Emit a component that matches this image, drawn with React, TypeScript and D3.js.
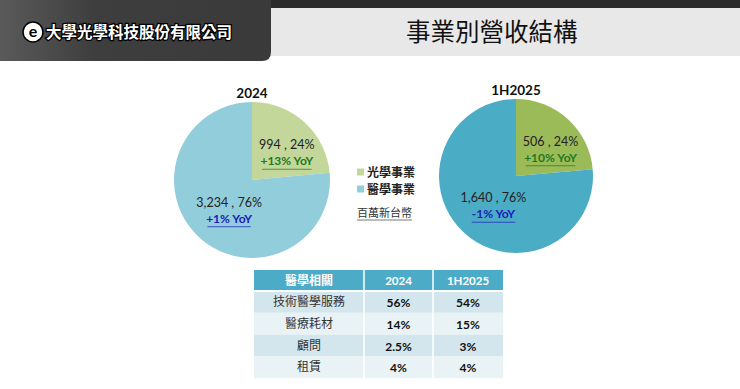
import React from "react"
import * as d3 from "d3"

const width = 740
const height = 389

// segments
const segments = ["光學事業", "醫學事業"]
const values2024 = [994, 3234]
const values2025 = [506, 1640]
const shares2024 = ["24%", "76%"]
const shares2025 = ["24%", "76%"]
const yoy2024 = ["+13% YoY", "+1% YoY"]
const yoy2025 = ["+10% YoY", "-1% YoY"]

// medical breakdown table
const tableHead = ["醫學相關", "2024", "1H2025"]
const tableRows = ["技術醫學服務", "醫療耗材", "顧問", "租賃"]
const table2024 = ["56%", "14%", "2.5%", "4%"]
const table2025 = ["54%", "15%", "3%", "4%"]

const cjk = "'Noto Sans CJK TC', 'Noto Sans', sans-serif"
const latin = "Lato, 'Open Sans', sans-serif"

const fmt = d3.format(",")

type PieProps = {
  title: string
  values: number[]
  shares: string[]
  yoy: string[]
  cx: number
  cy: number
  r: number
  colors: string[]
}

const Pie = ({ title, values, shares, yoy, cx, cy, r, colors }: PieProps) => {
  const pie = d3.pie<number>().sort(null).value(d => d)
  const arcs = pie(values)
  const arc = d3.arc<d3.PieArcDatum<number>>().innerRadius(0).outerRadius(r)
  const labelArc = d3
    .arc<d3.PieArcDatum<number>>()
    .innerRadius(r * 0.55)
    .outerRadius(r * 0.55)
  const yoyColors = ["#1f7a1f", "#1c1cb8"]

  return (
    <g transform={`translate(${cx},${cy})`}>
      <text
        x={0}
        y={-r - 4}
        textAnchor="middle"
        fontFamily={latin}
        fontWeight="bold"
        fontSize={13.5}
        fill="#111"
      >
        {title}
      </text>
      {arcs.map((a, i) => (
        <path key={i} d={arc(a) || ""} fill={colors[i]} />
      ))}
      {arcs.map((a, i) => {
        const [lx, ly] = labelArc.centroid(a)
        const w = yoy[i].length * 6.2
        // nudge labels toward where the slide places them
        const dy = ly < 0 ? 1 : -5
        return (
          <g key={"l" + i} transform={`translate(${lx + 6},${ly + dy})`}>
            <text
              textAnchor="middle"
              y={0}
              fontFamily={latin}
              fontSize={12.5}
              fill="#222"
            >
              {fmt(values[i])} , {shares[i]}
            </text>
            <text
              textAnchor="middle"
              y={16}
              fontFamily={latin}
              fontWeight="bold"
              fontSize={12}
              fill={yoyColors[i]}
            >
              {yoy[i]}
            </text>
            <line
              x1={-w / 2}
              x2={w / 2}
              y1={20}
              y2={20}
              stroke={yoyColors[i]}
              strokeWidth={1}
              opacity={0.7}
            />
          </g>
        )
      })}
    </g>
  )
}

const App = () => {
  const colX = [254, 364, 433, 503]
  const rowY = d3.range(6).map(i => (i === 0 ? 270 : 291 + (i - 1) * 21.8))
  const rowFills = ["#d3e6ed", "#e9f3f6", "#d3e6ed", "#e9f3f6"]
  const legendColors = ["#c4d79b", "#92cddc"]

  return (
    <svg
      width={width}
      height={height}
      style={{ position: "absolute", left: 0, top: 0, background: "#fff" }}
    >
      <defs>
        <linearGradient id="panel" x1="0" x2="1" y1="0" y2="0">
          <stop offset="0" stopColor="#5a5a5a" />
          <stop offset="0.35" stopColor="#3e3e3e" />
          <stop offset="1" stopColor="#3a3a3a" />
        </linearGradient>
      </defs>
      {/* header */}
      <rect x={0} y={8} width={width} height={48} fill="#e8e8e8" />
      <rect x={0} y={0} width={width} height={8} fill="#2b2b2b" />
      <path d="M0,0 H271 V52 Q271,61 262,61 H0 Z" fill="url(#panel)" />
      <circle cx={33} cy={32} r={10} fill="#fff" stroke="#000" strokeWidth={1.5} />
      <text
        x={33}
        y={37}
        textAnchor="middle"
        fontFamily={latin}
        fontSize={16}
        fontWeight="bold"
        fill="#000"
      >
        e
      </text>
      <text
        x={46}
        y={38}
        fontFamily={cjk}
        fontSize={15.5}
        fontWeight="bold"
        fill="#fff"
        stroke="#000"
        strokeWidth={2.5}
        paintOrder="stroke"
      >
        大學光學科技股份有限公司
      </text>
      <text x={406} y={41} fontFamily={cjk} fontSize={24.5} fill="#111">
        事業別營收結構
      </text>

      <Pie
        title="2024"
        values={values2024}
        shares={shares2024}
        yoy={yoy2024}
        cx={252}
        cy={180}
        r={78}
        colors={["#c4d79b", "#92cddc"]}
      />
      <Pie
        title="1H2025"
        values={values2025}
        shares={shares2025}
        yoy={yoy2025}
        cx={516}
        cy={176}
        r={77}
        colors={["#9bbb59", "#4bacc6"]}
      />

      {/* legend */}
      {segments.map((s, i) => (
        <g key={s} transform={`translate(357,${172 + i * 17})`}>
          <rect x={0} y={-3.5} width={7} height={7} fill={legendColors[i]} />
          <text
            x={10}
            y={4.5}
            fontFamily={cjk}
            fontSize={12}
            fontWeight="bold"
            fill="#222"
          >
            {s}
          </text>
        </g>
      ))}
      <text x={357} y={217} fontFamily={cjk} fontSize={11} fill="#333">
        百萬新台幣
      </text>
      <line x1={357} x2={412} y1={220} y2={220} stroke="#555" strokeWidth={0.8} />

      {/* table */}
      <rect
        x={colX[0]}
        y={rowY[0]}
        width={colX[3] - colX[0]}
        height={rowY[1] - rowY[0]}
        fill="#4cacc7"
      />
      {tableHead.map((h, j) => (
        <text
          key={h}
          x={(colX[j] + colX[j + 1]) / 2}
          y={rowY[0] + 15}
          textAnchor="middle"
          fontFamily={j === 0 ? cjk : latin}
          fontSize={j === 0 ? 12 : 11.5}
          fontWeight="bold"
          fill="#fff"
        >
          {h}
        </text>
      ))}
      {tableRows.map((row, i) => (
        <g key={row}>
          <rect
            x={colX[0]}
            y={rowY[i + 1]}
            width={colX[3] - colX[0]}
            height={rowY[i + 2] - rowY[i + 1]}
            fill={rowFills[i]}
          />
          <text
            x={(colX[0] + colX[1]) / 2}
            y={rowY[i + 1] + 15}
            textAnchor="middle"
            fontFamily={cjk}
            fontSize={12}
            fill="#333"
          >
            {row}
          </text>
          {[table2024[i], table2025[i]].map((v, j) => (
            <text
              key={j}
              x={(colX[j + 1] + colX[j + 2]) / 2}
              y={rowY[i + 1] + 16}
              textAnchor="middle"
              fontFamily={latin}
              fontSize={12}
              fontWeight="bold"
              fill="#111"
            >
              {v}
            </text>
          ))}
        </g>
      ))}
      {[1, 2].map(j => (
        <line
          key={j}
          x1={colX[j]}
          x2={colX[j]}
          y1={rowY[0]}
          y2={rowY[5]}
          stroke="#fff"
          strokeWidth={1.5}
        />
      ))}
      <line
        x1={colX[0]}
        x2={colX[3]}
        y1={rowY[1]}
        y2={rowY[1]}
        stroke="#fff"
        strokeWidth={2}
      />
    </svg>
  )
}

export default App
